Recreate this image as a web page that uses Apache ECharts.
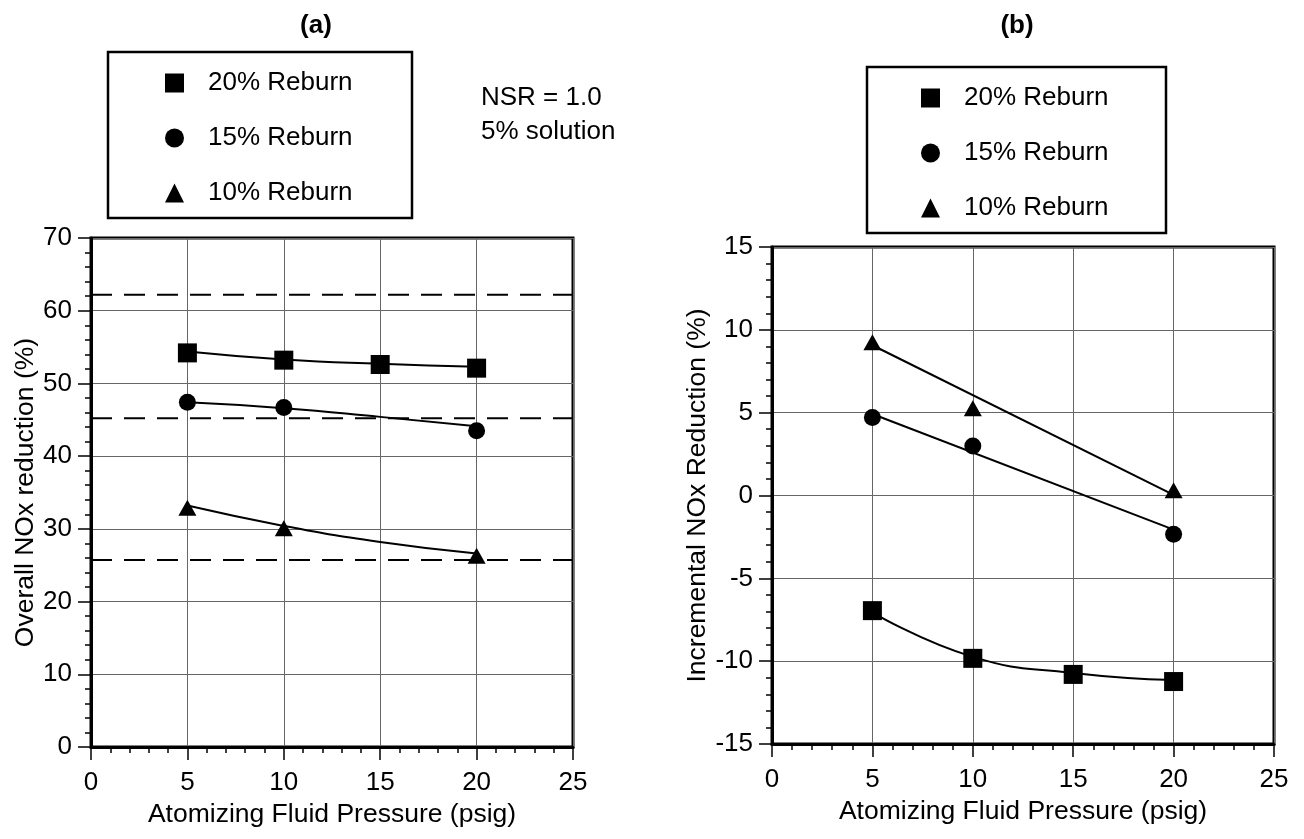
<!DOCTYPE html>
<html>
<head>
<meta charset="utf-8">
<script src="https://cdn.jsdelivr.net/npm/echarts@6/dist/echarts.min.js"></script>
<style>
html,body{margin:0;padding:0;background:#fff;}
#chart{width:1304px;height:839px;}
</style>
</head>
<body>
<div id="chart"></div>
<script>
// ---------- data ----------
const pressure4 = [5, 10, 15, 20];
const pressure3 = [5, 10, 20];
const seriesNames = ['20% Reburn', '15% Reburn', '10% Reburn'];

// (a) Overall NOx reduction (%)
const aReburn20 = [54.2, 53.2, 52.6, 52.1];   // at pressure4
const aReburn15 = [47.4, 46.7, 43.5];         // at pressure3
const aReburn10 = [32.9, 30.1, 26.3];         // at pressure3
const aFit20 = [54.4, 53.3, 52.7, 52.3];      // fitted curves at pressure4
const aFit15 = [47.4, 46.6, 45.4, 44.1];
const aFit10 = [33.2, 30.4, 28.2, 26.6];
const aBaselines = [62.2, 45.2, 25.7];        // dashed reference levels
const aXRange = [0, 25];

// (b) Incremental NOx reduction (%)
const bReburn20 = [-6.95, -9.83, -10.8, -11.23]; // at pressure4
const bReburn15 = [4.71, 2.99, -2.34];           // at pressure3
const bReburn10 = [9.25, 5.27, 0.32];            // at pressure3
const bFit20 = [-7.05, -9.74, -10.71, -11.14];   // at pressure4
const bFitX = [5, 20];
const bFit15 = [4.92, -2.06];
const bFit10 = [9.07, 0.04];

const titles = ['(a)', '(b)'];
const noteLines = ['NSR = 1.0', '5% solution'];
const xName = 'Atomizing Fluid Pressure (psig)';
const yNameA = 'Overall NOx reduction (%)';
const yNameB = 'Incremental NOx Reduction (%)';

// ---------- helpers ----------
const FONT = "'Liberation Sans', Arial, sans-serif";
const zip = (xs, ys) => xs.map((x, i) => [x, ys[i]]);
const symbols = ['rect', 'circle', 'triangle'];
const symSizes = [19, 17, [18, 16]];

function xAxisCfg(gridIndex, gap) {
  return {
    gridIndex, type: 'value', min: 0, max: 25, interval: 5,
    name: xName, nameLocation: 'middle', nameGap: gap,
    nameTextStyle: {fontSize: 26.5, color: '#000', fontFamily: FONT},
    axisLine: {show: true, onZero: false, lineStyle: {color: '#000', width: 3}},
    axisTick: {show: true, inside: false, length: 13, lineStyle: {color: '#000', width: 1.5}},
    minorTick: {show: true, splitNumber: 5, length: 6, lineStyle: {color: '#000', width: 1.5}},
    axisLabel: {fontSize: 26, color: '#000', margin: 23, fontFamily: FONT},
    splitLine: {show: true, lineStyle: {color: '#666', width: 1}}
  };
}
function yAxisCfg(gridIndex, min, max, interval, name, gap) {
  return {
    gridIndex, type: 'value', min, max, interval,
    name, nameLocation: 'middle', nameGap: gap,
    nameTextStyle: {fontSize: 26.5, color: '#000', fontFamily: FONT},
    axisLine: {show: true, onZero: false, lineStyle: {color: '#000', width: 3}},
    axisTick: {show: true, inside: false, length: 13, lineStyle: {color: '#000', width: 1.5}},
    minorTick: {show: true, splitNumber: 5, length: 6, lineStyle: {color: '#000', width: 1.5}},
    axisLabel: {fontSize: 26, color: '#000', margin: 19, fontFamily: FONT},
    splitLine: {show: true, lineStyle: {color: '#666', width: 1}}
  };
}
function scatter(name, idx, data, xi) {
  return {
    type: 'scatter', name, xAxisIndex: xi, yAxisIndex: xi,
    data, symbol: symbols[idx], symbolSize: symSizes[idx],
    itemStyle: {color: '#000', opacity: 1}, z: 5
  };
}
function fitLine(data, xi, smooth) {
  return {
    type: 'line', name: 'fit', xAxisIndex: xi, yAxisIndex: xi,
    data, smooth: smooth, showSymbol: false, symbol: 'none',
    lineStyle: {color: '#000', width: 2}, z: 3, silent: true
  };
}
function baseline(v) {
  return {
    type: 'line', name: 'baseline', xAxisIndex: 0, yAxisIndex: 0,
    data: [[aXRange[0], v], [aXRange[1], v]], showSymbol: false, symbol: 'none',
    lineStyle: {color: '#000', width: 2, type: [21, 12]}, z: 3, silent: true
  };
}
function legendCfg(left, top) {
  return {
    data: seriesNames, orient: 'vertical', left, top, padding: 0,
    itemWidth: 19, itemHeight: 19, itemGap: 29,
    itemStyle: {opacity: 1},
    textStyle: {fontSize: 26, color: '#000', fontFamily: FONT, lineHeight: 26, padding: [0, 0, 0, 19]},
    selectedMode: false
  };
}

const chart = echarts.init(document.getElementById('chart'), null, {renderer: 'canvas'});
const option = {
  backgroundColor: '#fff',
  animation: false,
  grid: [
    {left: 91, top: 238, width: 482, height: 509, show: true, borderColor: '#000', borderWidth: 3, backgroundColor: 'transparent'},
    {left: 772, top: 247, width: 502, height: 497, show: true, borderColor: '#000', borderWidth: 3, backgroundColor: 'transparent'}
  ],
  xAxis: [xAxisCfg(0, 45), xAxisCfg(1, 47)],
  yAxis: [
    yAxisCfg(0, 0, 70, 10, yNameA, 52),
    yAxisCfg(1, -15, 15, 5, yNameB, 58)
  ],
  legend: [legendCfg(165, 70), legendCfg(921, 85)],
  graphic: [
    {type: 'rect', shape: {x: 108, y: 52, width: 304, height: 166}, style: {fill: 'none', stroke: '#000', lineWidth: 2.5}, z: 1},
    {type: 'rect', shape: {x: 867, y: 67, width: 299, height: 166}, style: {fill: 'none', stroke: '#000', lineWidth: 2.5}, z: 1},
    {type: 'text', style: {text: titles[0], x: 316, y: 26, fontSize: 26, fontWeight: 'bold', fontFamily: FONT, fill: '#000', textAlign: 'center', textVerticalAlign: 'middle'}},
    {type: 'text', style: {text: titles[1], x: 1017, y: 26, fontSize: 26, fontWeight: 'bold', fontFamily: FONT, fill: '#000', textAlign: 'center', textVerticalAlign: 'middle'}},
    {type: 'text', style: {text: noteLines[0], x: 481, y: 98, fontSize: 26, fontFamily: FONT, fill: '#000', textAlign: 'left', textVerticalAlign: 'middle'}},
    {type: 'text', style: {text: noteLines[1], x: 481, y: 132, fontSize: 26, fontFamily: FONT, fill: '#000', textAlign: 'left', textVerticalAlign: 'middle'}}
  ],
  series: [
    ...aBaselines.map(baseline),
    fitLine(zip(pressure4, aFit20), 0, true),
    fitLine(zip(pressure4, aFit15), 0, true),
    fitLine(zip(pressure4, aFit10), 0, true),
    scatter(seriesNames[0], 0, zip(pressure4, aReburn20), 0),
    scatter(seriesNames[1], 1, zip(pressure3, aReburn15), 0),
    scatter(seriesNames[2], 2, zip(pressure3, aReburn10), 0),
    fitLine(zip(pressure4, bFit20), 1, true),
    fitLine(zip(bFitX, bFit15), 1, false),
    fitLine(zip(bFitX, bFit10), 1, false),
    scatter(seriesNames[0], 0, zip(pressure4, bReburn20), 1),
    scatter(seriesNames[1], 1, zip(pressure3, bReburn15), 1),
    scatter(seriesNames[2], 2, zip(pressure3, bReburn10), 1)
  ]
};
chart.setOption(option);
</script>
</body>
</html>
